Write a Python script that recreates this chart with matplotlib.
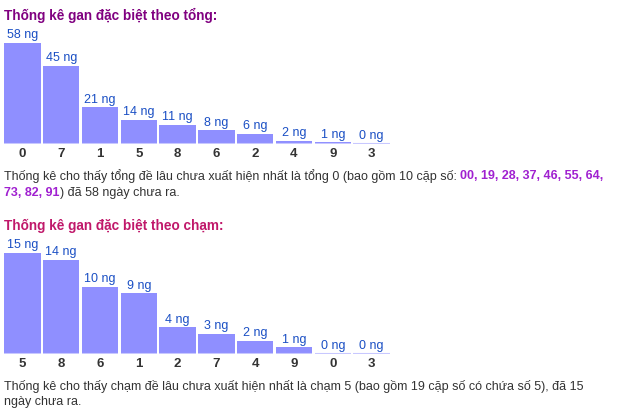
import matplotlib
matplotlib.use("Agg")
import matplotlib.pyplot as plt

cats1 = ["0","7","1","5","8","6","2","4","9","3"]
vals1 = [58,45,21,14,11,8,6,2,1,0]
cats2 = ["5","8","6","1","2","7","4","9","0","3"]
vals2 = [15,14,10,9,4,3,2,1,0,0]

W, H = 638, 411
fig = plt.figure(figsize=(W/100, H/100), dpi=100)
plt.rcParams["font.family"] = "Liberation Sans"
BAR = "#8f8fff"
LBL = "#1a4fc4"

def chart(cats, vals, top, base):
    ax = fig.add_axes([3/W, (H-base)/H, 388/W, (base-top)/H])
    x = range(len(cats))
    ax.bar(x, vals, width=0.94, color=BAR)
    ax.hlines([0]*len(cats), [i-0.47 for i in x], [i+0.47 for i in x], color="#c8c8ff", lw=1.5)
    m = max(vals)
    for i, v in zip(x, vals):
        ax.text(i, v + m*0.015, f"{v} ng", ha="center", va="bottom", color=LBL, fontsize=9)
        ax.text(i, -m*0.04, cats[i], ha="center", va="top", color="#333333", fontsize=9.5, weight="bold")
    ax.set_xlim(-0.5, len(cats)-0.5)
    ax.set_ylim(0, m)
    ax.axis("off")

def rich(y, pieces, x0=4):
    fig.canvas.draw()
    r = fig.canvas.get_renderer()
    x = x0
    for s, c, w in pieces:
        t = fig.text(x/W, 1-y/H, s, color=c, weight=w, fontsize=9, va="center", ha="left")
        x += t.get_window_extent(r).width

fig.text(4/W, 1-15/H, "Thống kê gan đặc biệt theo tổng:", color="#800080", weight="bold", fontsize=9.8, va="center")
chart(cats1, vals1, 43, 144)
rich(176, [("Thống kê cho thấy tổng đề lâu chưa xuất hiện nhất là tổng 0 (bao gồm 10 cặp số: ", "#333333", "normal"),
           ("00, 19, 28, 37, 46, 55, 64,", "#a020d0", "bold")])
rich(193, [("73, 82, 91", "#a020d0", "bold"), (") đã 58 ngày chưa ra.", "#333333", "normal")])

fig.text(4/W, 1-226/H, "Thống kê gan đặc biệt theo chạm:", color="#c0186a", weight="bold", fontsize=9.8, va="center")
chart(cats2, vals2, 253, 354)
rich(386, [("Thống kê cho thấy chạm đề lâu chưa xuất hiện nhất là chạm 5 (bao gồm 19 cặp số có chứa số 5), đã 15", "#333333", "normal")])
rich(402, [("ngày chưa ra.", "#333333", "normal")])

fig.savefig("out.png", dpi=100)
